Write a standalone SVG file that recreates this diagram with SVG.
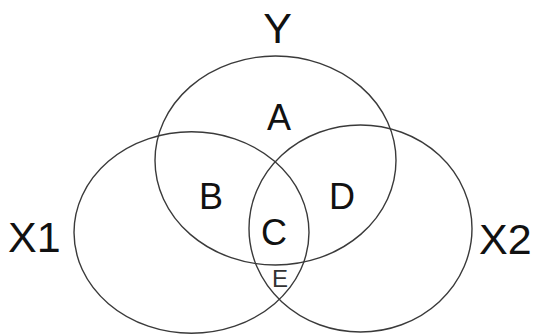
<svg xmlns="http://www.w3.org/2000/svg" width="538" height="336" viewBox="0 0 538 336">
<style>
.set{fill:none;stroke:#3a3a3a;stroke-width:1.4}
.lbl{font-family:"Liberation Sans",Arial,sans-serif;fill:#111;text-anchor:middle}
.big{font-size:43px}
.mid{font-size:36px}
.sm{font-size:24px;fill:#333}
</style>
<rect width="538" height="336" fill="#fff"/>
<g id="Y">
<ellipse class="set" cx="275.5" cy="160.5" rx="120.5" ry="104.5"/>
<text class="lbl big" x="277.5" y="43">Y</text>
</g>
<g id="X1">
<ellipse class="set" cx="191.5" cy="232.5" rx="117.5" ry="100.7"/>
<text class="lbl big" x="8" y="252" style="text-anchor:start">X1</text>
</g>
<g id="X2">
<ellipse class="set" cx="360.5" cy="228.5" rx="111.5" ry="103.5"/>
<text class="lbl big" x="479" y="254" style="text-anchor:start">X2</text>
</g>
<g id="regions">
<text class="lbl mid" x="279" y="130">A</text>
<text class="lbl mid" x="211" y="209">B</text>
<text class="lbl mid" x="274" y="245">C</text>
<text class="lbl mid" x="342" y="209">D</text>
<text class="lbl sm" x="280" y="287">E</text>
</g>
<g id="connectors"/>
</svg>
